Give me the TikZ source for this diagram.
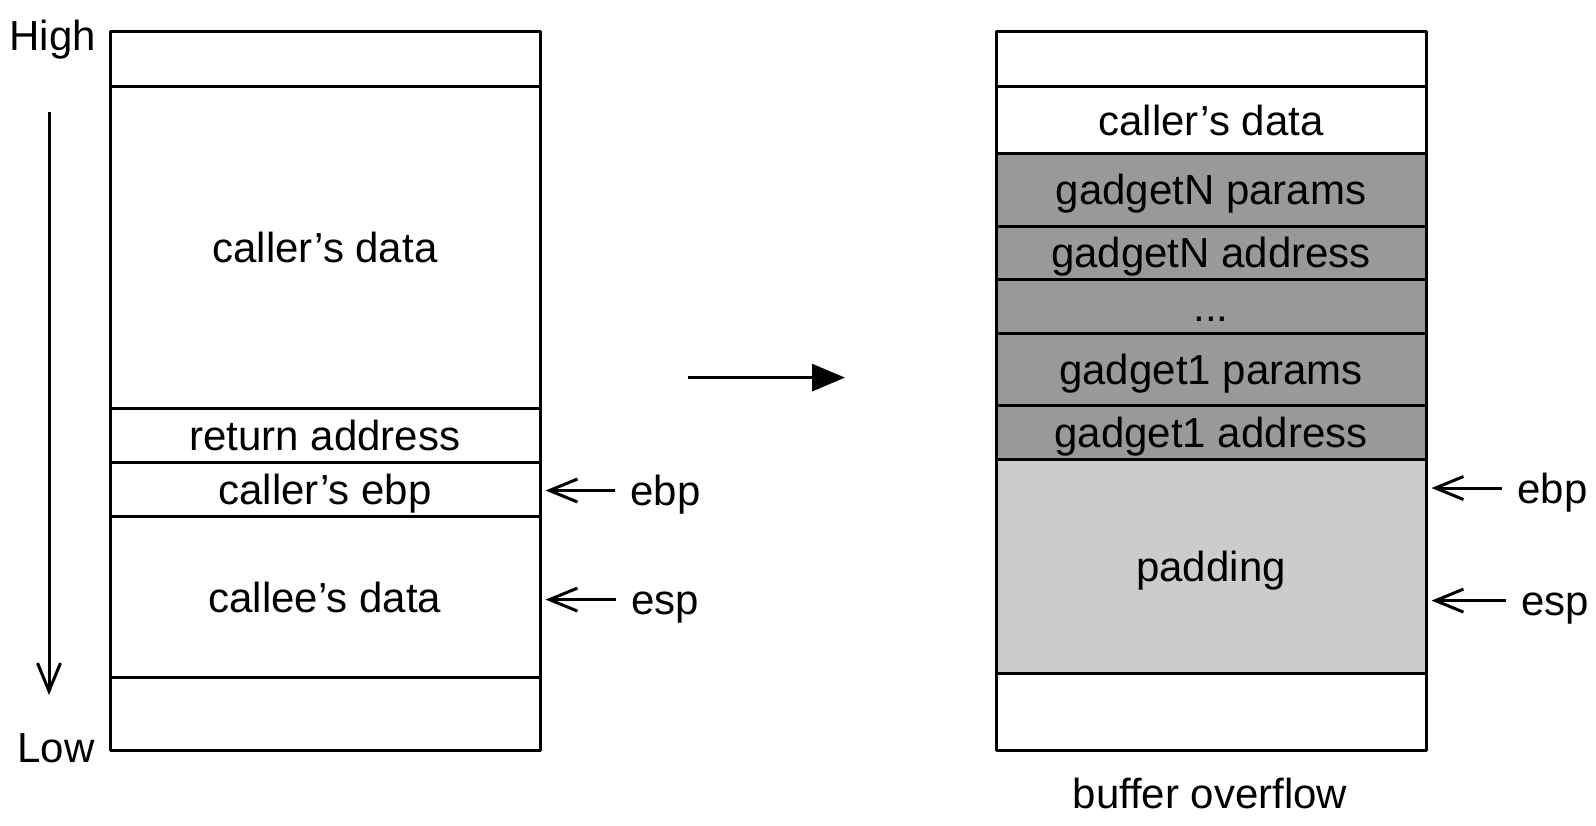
\documentclass[tikz,border=0pt]{standalone}
\usepackage{fontspec}
\setmainfont[Ligatures=NoCommon]{Liberation Sans}
\usetikzlibrary{arrows.meta}
\definecolor{gadgetgray}{HTML}{999999}
\definecolor{padgray}{HTML}{CCCCCC}
\begin{document}
\begin{tikzpicture}[x=0.5pt,y=-0.5pt,
  every node/.style={font=\fontsize{21}{25}\selectfont},
  cell/.style={draw=black, line width=1.5pt, minimum width=215pt, inner sep=0pt,
    text height=15pt, text depth=0pt, anchor=center, line join=round},
  gadget/.style={cell, fill=gadgetgray},
  pad/.style={cell, fill=padgray},
  reglabel/.style={anchor=west, inner sep=7.5pt, text height=15pt, text depth=0pt},
  ptr/.style={line width=1.5pt, -{Straight Barb[length=14pt,width=11.5pt,line width=1.5pt]}, shorten >=2pt},
  flow/.style={line width=1.5pt, -{Triangle[length=16.5pt,width=13.5pt]}}
]
\useasboundingbox (0,0) rectangle (1596,825);

% normal call frame
\node[cell, minimum height=27.45pt]  (L1) at (325,59.05) {};
\node[cell, minimum height=160.85pt] (L2) at (325,247.35) {caller’s data};
\node[cell, minimum height=26.95pt]  (L3) at (325,435.15) {return address};
\node[cell, minimum height=27pt]     (L4) at (325,489.1) {caller’s ebp};
\node[cell, minimum height=80.9pt]   (L5) at (325,597) {callee’s data};
\node[cell, minimum height=36.15pt]  (L6) at (325,714.05) {};

% address direction
\node[anchor=base west, inner sep=0pt] (high) at (9,50) {High};
\node[anchor=base west, inner sep=0pt] (low) at (17,762) {Low};
\coordinate (dtop) at (49,112);
\coordinate (dbot) at (49,695);
\draw[line width=1.5pt, -{Straight Barb[length=14pt,width=11.5pt,line width=1.5pt]}] (dtop) -- (dbot);

% register pointers, normal frame
\node[reglabel] (lebp) at (615,490.5) {ebp};
\node[reglabel] (lesp) at (616,599.6) {esp};
\draw[ptr] (lebp.west) -- (L4.east |- lebp.west);
\draw[ptr] (lesp.west) -- (L5.east |- lesp.west);

% transition
\coordinate (ta) at (688,377.6);
\coordinate (tb) at (845,377.6);
\draw[flow] (ta) -- (tb);

% overflowed frame
\node[cell, minimum height=27.45pt]  (R1) at (1211,59.05) {};
\node[cell, minimum height=33.6pt]   (R2) at (1211,120.1) {caller’s data};
\node[gadget, minimum height=36.15pt] (R3) at (1211,189.85) {gadgetN params};
\node[gadget, minimum height=26.95pt] (R4) at (1211,252.95) {gadgetN address};
\node[gadget, minimum height=27pt]    (R5) at (1211,306.9) {...};
\node[gadget, minimum height=35.6pt]  (R6) at (1211,369.5) {gadget1 params};
\node[gadget, minimum height=27pt]    (R7) at (1211,432.1) {gadget1 address};
\node[pad, minimum height=107.4pt]    (R8) at (1211,566.5) {padding};
\node[cell, minimum height=38.15pt]   (R9) at (1211,712.05) {};

% register pointers, overflowed frame
\node[reglabel] (rebp) at (1502,488) {ebp};
\node[reglabel] (resp) at (1506,600.6) {esp};
\draw[ptr] (rebp.west) -- (R8.east |- rebp.west);
\draw[ptr] (resp.west) -- (R8.east |- resp.west);

\node[anchor=base, inner sep=0pt] (cap) at (1210,808) {buffer overflow};
\end{tikzpicture}
\end{document}
